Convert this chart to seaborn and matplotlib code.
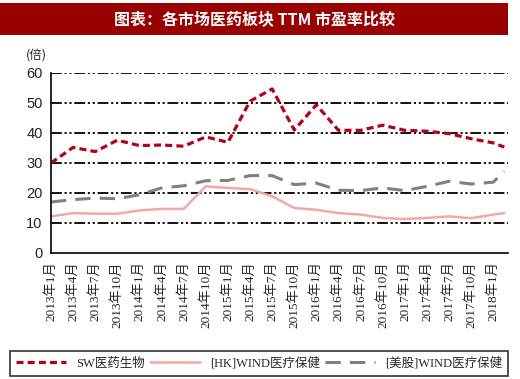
import numpy as np
import pandas as pd
import matplotlib
matplotlib.use("Agg")
import matplotlib.pyplot as plt
from matplotlib.patches import Rectangle
import seaborn as sns

# quarterly tick labels, month index 0 = 2013-01
tick_labels = ["2013年1月", "2013年4月", "2013年7月", "2013年10月",
               "2014年1月", "2014年4月", "2014年7月", "2014年10月",
               "2015年1月", "2015年4月", "2015年7月", "2015年10月",
               "2016年1月", "2016年4月", "2016年7月", "2016年10月",
               "2017年1月", "2017年4月", "2017年7月", "2017年10月",
               "2018年1月"]
months = [0, 3, 6, 9, 12, 15, 18, 21, 24, 27, 30, 33, 36, 39, 42, 45,
          48, 51, 54, 57, 60, 61.5]

# PE (TTM)
sw_pharma = [30.0, 35.2, 33.8, 37.6, 35.8, 36.0, 35.6, 38.7, 36.9, 50.6, 54.7,
             41.0, 49.4, 40.9, 40.9, 42.6, 40.9, 40.6, 39.8, 38.1, 36.7, 35.3]
hk_health = [12.2, 13.3, 13.1, 13.1, 14.2, 14.7, 14.7, 22.2, 21.7, 21.3, 18.9,
             15.0, 14.4, 13.3, 12.8, 11.7, 11.3, 11.7, 12.2, 11.6, 12.8, 13.3]
us_health = [17.0, 17.8, 18.3, 18.1, 19.4, 21.7, 22.4, 24.1, 24.2, 25.8, 25.8,
             22.8, 23.3, 20.9, 20.8, 21.7, 20.8, 22.2, 23.9, 23.0, 23.6, 27.2]

series_names = ["SW医药生物", "[HK]WIND医疗保健", "[美股]WIND医疗保健"]

sns.set_theme(style="white")
plt.rcParams['font.family'] = ['Liberation Serif', 'Noto Sans CJK SC', 'DejaVu Sans']

fig = plt.figure(figsize=(5.2, 3.79), dpi=100)
ax = fig.add_axes([51 / 520, 1 - 253 / 379, 457 / 520, 180 / 379])

df = pd.DataFrame({"month": months, "sw": sw_pharma, "hk": hk_health, "us": us_health})

sns.lineplot(data=df, x="month", y="sw", ax=ax, color="#B5001C", lw=2.3,
             label=series_names[0])
sns.lineplot(data=df, x="month", y="hk", ax=ax, color="#F2A9A6", lw=1.8,
             label=series_names[1])
sns.lineplot(data=df, x="month", y="us", ax=ax, color="#808080", lw=2.2,
             label=series_names[2])
ax.lines[0].set_dashes([2.2, 1.3])
ax.lines[2].set_dashes([5, 3])

ax.set_xlim(0, 62)
ax.set_ylim(0, 60)
ax.set_yticks(range(0, 61, 10))
ax.set_xticks(months[:-1])
ax.set_xticklabels(tick_labels, rotation=90, fontsize=9.5,
                   family=['Liberation Serif', 'Noto Sans CJK SC'])
for lab in ax.get_yticklabels():
    lab.set_family(['Liberation Sans'])
    lab.set_fontsize(10.5)
    lab.set_color("#222222")
ax.set_xlabel("")
ax.set_ylabel("")

for y in range(10, 61, 10):
    ax.axhline(y, color="black", lw=1.3, dashes=[6, 1.5, 1.2, 1.5, 1.2, 1.5], zorder=0)

for s in ["top", "right"]:
    ax.spines[s].set_visible(False)
for s in ["left", "bottom"]:
    ax.spines[s].set_color("black")
    ax.spines[s].set_linewidth(1.2)
ax.tick_params(axis="both", direction="out", length=4, width=1, color="black", pad=2)

fig.text(26 / 520, 1 - 55 / 379, "(倍)", fontsize=9, ha="left", va="center",
         family=['Noto Sans CJK SC'])

# title bar
fig.patches.append(Rectangle((0, 1 - 35 / 379), 508 / 520, 32 / 379,
                             transform=fig.transFigure, facecolor="#990000",
                             edgecolor="none"))
fig.text(254 / 520, 1 - 19 / 379, "图表：各市场医药板块 TTM 市盈率比较", color="white",
         fontsize=11.5, fontweight="bold", ha="center", va="center",
         family=['Noto Sans CJK SC'])

leg = ax.legend(loc="lower left", bbox_to_anchor=(-41 / 457, -123 / 180, 498 / 457, 35 / 180),
                mode="expand", ncol=3, frameon=True, fancybox=False,
                edgecolor="black", handlelength=4, borderpad=0.5, borderaxespad=0,
                prop={'family': ['Liberation Serif', 'Noto Sans CJK SC'], 'size': 9})
leg.get_frame().set_linewidth(1.2)

fig.savefig("out.png", dpi=100)
